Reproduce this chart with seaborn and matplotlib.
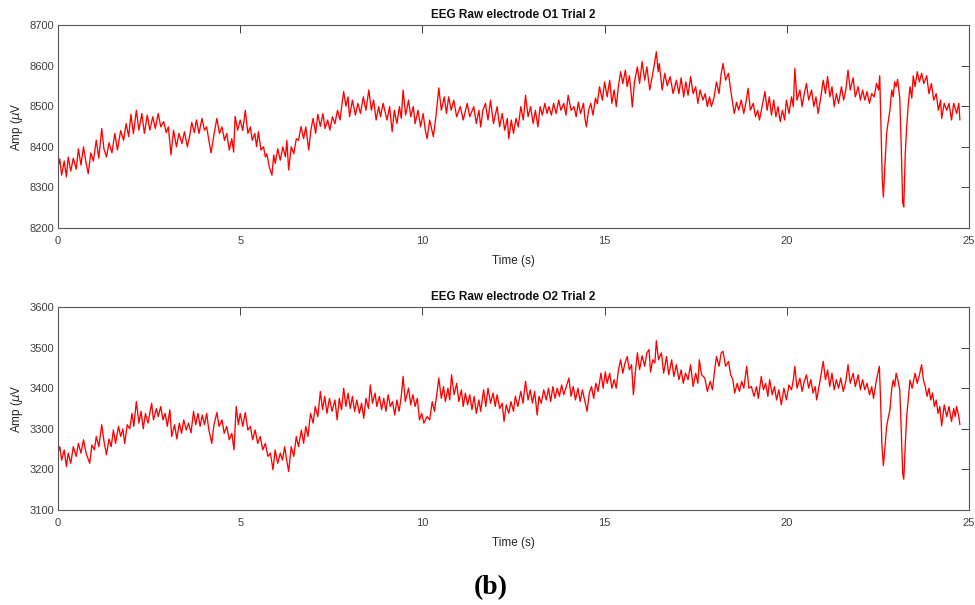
import matplotlib
matplotlib.use("Agg")
import matplotlib.pyplot as plt
import seaborn as sns
import pandas as pd

# ---------------- data (time s, amplitude uV) ----------------
o1_samples = [
    (0.00, 8350), (0.05, 8370), (0.10, 8330), (0.17, 8365), (0.23, 8326), (0.28, 8375), (0.35, 8340),
    (0.42, 8372), (0.50, 8345), (0.56, 8395), (0.63, 8355), (0.70, 8400), (0.77, 8360), (0.83, 8334),
    (0.90, 8385), (0.97, 8365), (1.05, 8416), (1.12, 8372), (1.20, 8445), (1.26, 8395), (1.33, 8375),
    (1.40, 8410), (1.48, 8385), (1.56, 8433), (1.63, 8392), (1.72, 8440), (1.80, 8416), (1.87, 8457),
    (1.94, 8425), (2.00, 8480), (2.07, 8432), (2.15, 8490), (2.22, 8441), (2.30, 8482), (2.37, 8433),
    (2.45, 8478), (2.52, 8441), (2.60, 8474), (2.67, 8445), (2.75, 8482), (2.82, 8449), (2.90, 8462),
    (2.97, 8435), (3.03, 8449), (3.10, 8380), (3.17, 8441), (3.25, 8400), (3.32, 8433), (3.40, 8408),
    (3.47, 8437), (3.55, 8400), (3.62, 8430), (3.67, 8460), (3.74, 8435), (3.80, 8466), (3.87, 8433),
    (3.95, 8470), (4.02, 8441), (4.08, 8449), (4.14, 8416), (4.20, 8385), (4.28, 8430), (4.36, 8470),
    (4.43, 8433), (4.50, 8449), (4.57, 8416), (4.63, 8433), (4.70, 8392), (4.77, 8420), (4.82, 8387),
    (4.86, 8475), (4.93, 8441), (5.00, 8466), (5.07, 8440), (5.14, 8490), (5.21, 8433), (5.28, 8449),
    (5.33, 8416), (5.40, 8433), (5.45, 8400), (5.50, 8437), (5.57, 8392), (5.64, 8400), (5.69, 8375),
    (5.73, 8383), (5.80, 8350), (5.87, 8330), (5.92, 8380), (5.96, 8359), (6.03, 8395), (6.10, 8367),
    (6.17, 8400), (6.24, 8375), (6.28, 8416), (6.33, 8343), (6.40, 8400), (6.47, 8383), (6.54, 8420),
    (6.60, 8416), (6.67, 8450), (6.74, 8420), (6.80, 8449), (6.88, 8392), (6.94, 8441), (7.00, 8470),
    (7.07, 8433), (7.13, 8480), (7.20, 8450), (7.27, 8482), (7.33, 8445), (7.40, 8466), (7.46, 8441),
    (7.53, 8474), (7.60, 8457), (7.67, 8490), (7.74, 8466), (7.80, 8510), (7.84, 8536), (7.90, 8500),
    (7.96, 8523), (8.00, 8474), (8.08, 8515), (8.16, 8478), (8.23, 8507), (8.30, 8482), (8.38, 8523),
    (8.45, 8490), (8.53, 8540), (8.60, 8490), (8.66, 8515), (8.73, 8466), (8.80, 8499), (8.85, 8474),
    (8.92, 8507), (9.03, 8466), (9.10, 8499), (9.17, 8437), (9.23, 8490), (9.30, 8457), (9.37, 8499),
    (9.42, 8470), (9.47, 8540), (9.54, 8478), (9.62, 8515), (9.68, 8474), (9.75, 8499), (9.80, 8457),
    (9.88, 8490), (9.95, 8449), (10.02, 8482), (10.08, 8441), (10.13, 8420), (10.20, 8466), (10.30, 8425),
    (10.37, 8474), (10.45, 8545), (10.52, 8490), (10.60, 8523), (10.66, 8482), (10.72, 8523), (10.79, 8490),
    (10.86, 8515), (10.94, 8474), (11.04, 8499), (11.12, 8466), (11.23, 8507), (11.30, 8474), (11.41, 8499),
    (11.48, 8457), (11.55, 8490), (11.60, 8449), (11.66, 8490), (11.73, 8507), (11.80, 8466), (11.87, 8515),
    (11.95, 8457), (12.05, 8499), (12.12, 8449), (12.19, 8482), (12.26, 8441), (12.33, 8470), (12.37, 8420),
    (12.44, 8466), (12.50, 8433), (12.57, 8470), (12.63, 8449), (12.70, 8499), (12.77, 8466), (12.83, 8527),
    (12.90, 8474), (12.97, 8499), (13.04, 8457), (13.10, 8490), (13.17, 8449), (13.23, 8499), (13.29, 8478),
    (13.36, 8507), (13.42, 8482), (13.47, 8499), (13.54, 8478), (13.60, 8507), (13.67, 8482), (13.74, 8515),
    (13.80, 8490), (13.88, 8507), (13.94, 8478), (14.00, 8527), (14.08, 8490), (14.16, 8499), (14.22, 8474),
    (14.28, 8510), (14.34, 8482), (14.42, 8507), (14.46, 8470), (14.50, 8449), (14.56, 8490), (14.62, 8507),
    (14.68, 8478), (14.75, 8520), (14.80, 8506), (14.86, 8548), (14.94, 8515), (15.00, 8560), (15.07, 8523),
    (15.14, 8564), (15.20, 8507), (15.26, 8540), (15.32, 8499), (15.38, 8550), (15.44, 8585), (15.50, 8556),
    (15.57, 8589), (15.62, 8548), (15.68, 8575), (15.72, 8540), (15.76, 8498), (15.82, 8560), (15.90, 8597),
    (15.96, 8556), (16.03, 8610), (16.10, 8564), (16.16, 8597), (16.24, 8540), (16.30, 8570), (16.36, 8600),
    (16.42, 8634), (16.47, 8585), (16.50, 8605), (16.58, 8540), (16.65, 8581), (16.72, 8550), (16.80, 8573),
    (16.88, 8531), (16.97, 8564), (17.04, 8531), (17.10, 8570), (17.17, 8523), (17.23, 8560), (17.29, 8527),
    (17.36, 8573), (17.43, 8531), (17.50, 8548), (17.56, 8507), (17.62, 8540), (17.70, 8515), (17.76, 8531),
    (17.82, 8499), (17.88, 8523), (17.93, 8499), (18.00, 8520), (18.07, 8560), (18.14, 8531), (18.20, 8580),
    (18.25, 8605), (18.32, 8564), (18.40, 8581), (18.46, 8540), (18.50, 8515), (18.56, 8482), (18.62, 8510),
    (18.68, 8490), (18.75, 8515), (18.82, 8482), (18.88, 8510), (18.94, 8544), (19.00, 8490), (19.08, 8507),
    (19.14, 8474), (19.20, 8490), (19.25, 8466), (19.32, 8499), (19.40, 8536), (19.46, 8490), (19.52, 8523),
    (19.58, 8478), (19.64, 8515), (19.70, 8474), (19.76, 8499), (19.82, 8462), (19.88, 8490), (19.94, 8466),
    (19.99, 8515), (20.06, 8482), (20.13, 8523), (20.18, 8499), (20.22, 8593), (20.28, 8515), (20.36, 8540),
    (20.42, 8499), (20.48, 8531), (20.54, 8556), (20.60, 8515), (20.68, 8540), (20.74, 8499), (20.80, 8523),
    (20.86, 8482), (20.92, 8515), (21.00, 8564), (21.06, 8531), (21.12, 8573), (21.18, 8523), (21.24, 8548),
    (21.30, 8499), (21.36, 8531), (21.42, 8507), (21.50, 8548), (21.56, 8515), (21.62, 8540), (21.68, 8589),
    (21.74, 8540), (21.82, 8570), (21.88, 8523), (21.96, 8548), (22.02, 8515), (22.08, 8540), (22.14, 8515),
    (22.20, 8536), (22.27, 8507), (22.33, 8531), (22.40, 8523), (22.46, 8556), (22.52, 8540), (22.55, 8575),
    (22.58, 8470), (22.62, 8320), (22.65, 8276), (22.69, 8350), (22.74, 8433), (22.78, 8460), (22.83, 8490),
    (22.88, 8540), (22.92, 8523), (22.96, 8560), (23.00, 8548), (23.04, 8566), (23.10, 8520), (23.14, 8400),
    (23.18, 8262), (23.21, 8252), (23.25, 8380), (23.29, 8450), (23.33, 8500), (23.38, 8548), (23.43, 8520),
    (23.47, 8575), (23.52, 8548), (23.58, 8585), (23.64, 8560), (23.70, 8581), (23.76, 8556), (23.84, 8575),
    (23.90, 8531), (23.97, 8556), (24.03, 8515), (24.10, 8531), (24.16, 8490), (24.22, 8515), (24.25, 8470),
    (24.32, 8507), (24.39, 8490), (24.45, 8507), (24.52, 8466), (24.58, 8507), (24.66, 8482), (24.72, 8507),
    (24.75, 8466),
]

o2_samples = [
    (0.00, 3240), (0.05, 3256), (0.10, 3223), (0.17, 3248), (0.23, 3207), (0.28, 3240), (0.35, 3215),
    (0.42, 3256), (0.50, 3232), (0.56, 3264), (0.63, 3240), (0.70, 3273), (0.77, 3240), (0.87, 3215),
    (0.93, 3260), (1.00, 3248), (1.05, 3281), (1.12, 3256), (1.20, 3310), (1.26, 3270), (1.33, 3236),
    (1.40, 3275), (1.46, 3256), (1.52, 3297), (1.58, 3264), (1.66, 3306), (1.72, 3281), (1.78, 3300),
    (1.83, 3264), (1.90, 3310), (1.97, 3300), (2.03, 3338), (2.08, 3306), (2.15, 3367), (2.22, 3314),
    (2.28, 3343), (2.34, 3300), (2.40, 3338), (2.47, 3314), (2.57, 3363), (2.62, 3322), (2.70, 3350),
    (2.75, 3330), (2.82, 3355), (2.88, 3322), (2.94, 3338), (3.00, 3306), (3.07, 3347), (3.12, 3281),
    (3.20, 3310), (3.26, 3275), (3.33, 3314), (3.39, 3289), (3.45, 3322), (3.52, 3297), (3.58, 3314),
    (3.65, 3290), (3.72, 3343), (3.78, 3310), (3.84, 3338), (3.90, 3306), (3.96, 3334), (4.02, 3310),
    (4.08, 3338), (4.14, 3297), (4.22, 3264), (4.28, 3310), (4.36, 3340), (4.42, 3306), (4.50, 3322),
    (4.56, 3289), (4.63, 3306), (4.70, 3273), (4.77, 3289), (4.83, 3248), (4.89, 3355), (4.95, 3310),
    (5.00, 3338), (5.07, 3306), (5.14, 3340), (5.21, 3297), (5.28, 3306), (5.34, 3273), (5.41, 3297),
    (5.48, 3264), (5.55, 3281), (5.62, 3248), (5.69, 3264), (5.76, 3232), (5.83, 3240), (5.90, 3199),
    (5.96, 3248), (6.03, 3215), (6.10, 3240), (6.16, 3223), (6.22, 3256), (6.28, 3220), (6.33, 3195),
    (6.40, 3256), (6.47, 3232), (6.54, 3281), (6.60, 3256), (6.68, 3297), (6.74, 3264), (6.80, 3306),
    (6.86, 3281), (6.93, 3338), (7.00, 3314), (7.06, 3355), (7.13, 3330), (7.20, 3392), (7.26, 3347),
    (7.32, 3380), (7.38, 3338), (7.45, 3375), (7.52, 3343), (7.60, 3371), (7.66, 3322), (7.72, 3375),
    (7.78, 3347), (7.84, 3400), (7.90, 3355), (7.96, 3388), (8.02, 3350), (8.08, 3380), (8.14, 3343),
    (8.20, 3371), (8.27, 3338), (8.33, 3363), (8.39, 3326), (8.45, 3375), (8.52, 3350), (8.57, 3408),
    (8.63, 3363), (8.70, 3388), (8.75, 3355), (8.82, 3380), (8.88, 3347), (8.94, 3375), (9.00, 3343),
    (9.06, 3384), (9.12, 3355), (9.18, 3367), (9.24, 3334), (9.30, 3371), (9.36, 3343), (9.42, 3380),
    (9.47, 3429), (9.53, 3367), (9.62, 3400), (9.68, 3359), (9.74, 3384), (9.80, 3355), (9.86, 3375),
    (9.92, 3322), (9.98, 3338), (10.04, 3314), (10.13, 3330), (10.20, 3322), (10.27, 3367), (10.33, 3343),
    (10.40, 3388), (10.45, 3425), (10.52, 3375), (10.58, 3404), (10.63, 3367), (10.70, 3400), (10.75, 3371),
    (10.80, 3433), (10.87, 3384), (10.94, 3412), (11.00, 3367), (11.07, 3396), (11.12, 3355), (11.18, 3388),
    (11.24, 3359), (11.30, 3384), (11.36, 3347), (11.42, 3380), (11.48, 3338), (11.55, 3371), (11.60, 3343),
    (11.68, 3396), (11.74, 3355), (11.80, 3400), (11.87, 3363), (11.94, 3388), (12.00, 3355), (12.05, 3384),
    (12.12, 3350), (12.19, 3363), (12.24, 3318), (12.30, 3359), (12.37, 3338), (12.43, 3367), (12.50, 3343),
    (12.55, 3380), (12.62, 3355), (12.70, 3392), (12.76, 3363), (12.83, 3417), (12.90, 3371), (12.96, 3396),
    (13.02, 3363), (13.08, 3392), (13.15, 3334), (13.20, 3380), (13.26, 3363), (13.33, 3396), (13.40, 3371),
    (13.46, 3400), (13.52, 3367), (13.58, 3404), (13.64, 3375), (13.70, 3400), (13.76, 3380), (13.82, 3408),
    (13.88, 3384), (14.02, 3425), (14.08, 3380), (14.14, 3404), (14.20, 3371), (14.27, 3400), (14.33, 3367),
    (14.39, 3396), (14.45, 3371), (14.52, 3343), (14.58, 3388), (14.64, 3404), (14.70, 3375), (14.76, 3412),
    (14.82, 3392), (14.90, 3437), (14.96, 3400), (15.02, 3440), (15.07, 3412), (15.14, 3437), (15.20, 3400),
    (15.26, 3421), (15.32, 3400), (15.38, 3445), (15.44, 3470), (15.50, 3437), (15.56, 3462), (15.62, 3478),
    (15.68, 3445), (15.74, 3458), (15.79, 3384), (15.85, 3445), (15.90, 3487), (15.96, 3446), (16.03, 3480),
    (16.10, 3454), (16.16, 3487), (16.22, 3495), (16.26, 3440), (16.32, 3470), (16.38, 3462), (16.42, 3517),
    (16.48, 3470), (16.56, 3487), (16.62, 3437), (16.70, 3478), (16.76, 3433), (16.84, 3470), (16.90, 3429),
    (16.97, 3458), (17.04, 3421), (17.10, 3445), (17.16, 3412), (17.22, 3437), (17.29, 3421), (17.36, 3458),
    (17.43, 3404), (17.50, 3437), (17.56, 3412), (17.60, 3470), (17.66, 3433), (17.75, 3425), (17.82, 3392),
    (17.90, 3417), (17.96, 3396), (18.02, 3445), (18.07, 3478), (18.14, 3454), (18.20, 3487), (18.25, 3491),
    (18.32, 3454), (18.40, 3466), (18.46, 3433), (18.52, 3421), (18.57, 3388), (18.64, 3412), (18.70, 3392),
    (18.76, 3417), (18.82, 3400), (18.90, 3454), (18.96, 3400), (19.03, 3404), (19.10, 3380), (19.17, 3404),
    (19.22, 3375), (19.30, 3429), (19.36, 3396), (19.42, 3412), (19.48, 3380), (19.53, 3421), (19.60, 3384),
    (19.66, 3404), (19.72, 3371), (19.78, 3396), (19.85, 3359), (19.92, 3400), (19.99, 3371), (20.06, 3408),
    (20.13, 3396), (20.18, 3421), (20.22, 3454), (20.28, 3400), (20.36, 3425), (20.42, 3392), (20.48, 3417),
    (20.54, 3433), (20.60, 3400), (20.66, 3421), (20.72, 3388), (20.78, 3404), (20.82, 3371), (20.90, 3412),
    (21.00, 3466), (21.06, 3421), (21.12, 3445), (21.18, 3404), (21.24, 3437), (21.30, 3396), (21.36, 3421),
    (21.42, 3400), (21.48, 3425), (21.55, 3392), (21.62, 3417), (21.68, 3458), (21.74, 3412), (21.82, 3437),
    (21.88, 3404), (21.96, 3433), (22.02, 3396), (22.08, 3421), (22.14, 3396), (22.20, 3412), (22.27, 3384),
    (22.33, 3404), (22.38, 3375), (22.46, 3421), (22.50, 3437), (22.54, 3454), (22.57, 3380), (22.61, 3260),
    (22.65, 3209), (22.70, 3260), (22.74, 3306), (22.79, 3330), (22.83, 3347), (22.88, 3400), (22.92, 3420),
    (22.96, 3404), (23.00, 3437), (23.05, 3420), (23.10, 3396), (23.14, 3300), (23.18, 3190), (23.21, 3176),
    (23.25, 3260), (23.29, 3330), (23.34, 3380), (23.38, 3420), (23.44, 3400), (23.52, 3437), (23.58, 3412),
    (23.64, 3433), (23.70, 3458), (23.75, 3420), (23.80, 3404), (23.85, 3380), (23.90, 3400), (23.95, 3371),
    (24.00, 3388), (24.05, 3355), (24.10, 3371), (24.15, 3338), (24.20, 3355), (24.25, 3307), (24.32, 3359),
    (24.39, 3330), (24.45, 3355), (24.52, 3318), (24.58, 3350), (24.62, 3330), (24.66, 3355), (24.72, 3330),
    (24.75, 3310),
]

titles = ["EEG Raw electrode O1 Trial 2", "EEG Raw electrode O2 Trial 2"]
x_label = "Time (s)"
y_label = "Amp ($\\mu$V"
x_ticks = [0, 5, 10, 15, 20, 25]
o1_ticks = [8200, 8300, 8400, 8500, 8600, 8700]
o2_ticks = [3100, 3200, 3300, 3400, 3500, 3600]
caption = "(b)"

# ---------------- figure ----------------
sns.set_theme(style="white")
plt.rcParams["font.family"] = ["Liberation Sans", "DejaVu Sans"]

fig = plt.figure(figsize=(9.75, 6.05), dpi=100)
W, H = 975, 605
left, right = 58, 969
panels = [
    (25, 228, o1_samples, o1_ticks, titles[0]),
    (307, 510, o2_samples, o2_ticks, titles[1]),
]

tick_col = "#404040"
for top, bot, samples, yt, title in panels:
    ax = fig.add_axes([left / W, 1 - bot / H, (right - left) / W, (bot - top) / H])
    df = pd.DataFrame(samples, columns=["time", "amp"])
    sns.lineplot(data=df, x="time", y="amp", ax=ax, color="red", linewidth=0.95,
                 estimator=None, sort=False)
    ax.set_xlim(x_ticks[0], x_ticks[-1])
    ax.set_ylim(yt[0], yt[-1])
    ax.set_xticks(x_ticks)
    ax.set_yticks(yt)
    ax.set_xticklabels([str(v) for v in x_ticks])
    ax.set_yticklabels([str(v) for v in yt])
    ax.tick_params(direction="in", top=True, right=True, length=5.5, width=0.7,
                   labelsize=8, colors=tick_col)
    ax.tick_params(axis="x", pad=6)
    ax.tick_params(axis="y", pad=3)
    for s in ax.spines.values():
        s.set_visible(True)
        s.set_color("#555555")
        s.set_linewidth(0.8)
    ax.set_xlabel(x_label, fontsize=8.5, color="#262626", labelpad=6)
    ax.set_ylabel(y_label, fontsize=8.5, color="#262626", labelpad=3)
    ax.set_title(title, fontsize=8.5, fontweight="bold", color="#111111", pad=5)
    ax.set_facecolor("white")
    ax.grid(False)

fig.text(491 / W, 1 - 588 / H, caption, ha="center", va="center",
         fontsize=20, fontweight="bold", color="black",
         family=["Liberation Serif", "DejaVu Serif"])

fig.savefig("out.png", dpi=100, facecolor="white")
